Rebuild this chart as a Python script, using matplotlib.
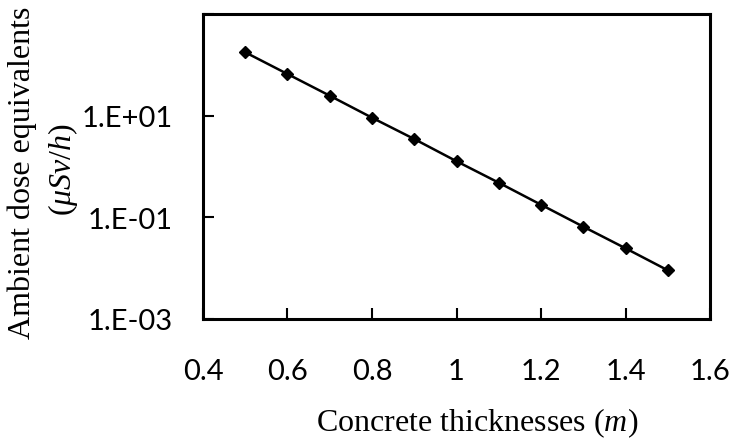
import matplotlib.pyplot as plt
from matplotlib.ticker import FixedLocator, NullLocator

plt.rcParams['mathtext.fontset'] = 'custom'
plt.rcParams['mathtext.rm'] = 'Liberation Serif'
plt.rcParams['mathtext.it'] = 'Liberation Serif:italic'

# concrete thickness (m) vs ambient dose equivalent (uSv/h)
thickness = [0.5, 0.6, 0.7, 0.8, 0.9, 1.0, 1.1, 1.2, 1.3, 1.4, 1.5]
dose = [176.5, 66.0, 24.7, 9.12, 3.47, 1.27, 0.48, 0.177, 0.0655, 0.0246, 0.00908]

xticks = [0.4, 0.6, 0.8, 1.0, 1.2, 1.4, 1.6]
xtick_labels = ['0.4', '0.6', '0.8', '1', '1.2', '1.4', '1.6']
yticks = [1e-3, 1e-1, 1e1, 1e3]
ytick_labels = ['1.E-03', '1.E-01', '1.E+01', '']

fig = plt.figure(figsize=(7.32, 4.39), dpi=100)
ax = fig.add_axes([0.2773, 0.2711, 0.6927, 0.6947])

ax.plot(thickness, dose, color='black', lw=1.8, marker='D', ms=6.5,
        markerfacecolor='black', markeredgecolor='black')

ax.set_yscale('log')
ax.set_xlim(0.4, 1.6)
ax.set_ylim(1e-3, 1e3)
ax.xaxis.set_major_locator(FixedLocator(xticks))
ax.set_xticklabels(xtick_labels)
ax.yaxis.set_major_locator(FixedLocator(yticks))
ax.set_yticklabels(ytick_labels)
ax.yaxis.set_minor_locator(NullLocator())

for s in ax.spines.values():
    s.set_linewidth(2.2)

ax.tick_params(axis='both', direction='in', length=8, width=1.5,
               labelsize=21)
ax.tick_params(axis='x', pad=28)
ax.tick_params(axis='y', pad=22)
for lab in ax.get_xticklabels() + ax.get_yticklabels():
    lab.set_family(['Lato', 'DejaVu Sans'])

fig.text(0.652, 0.036, r'Concrete thicknesses ($\it{m}$)',
         family='Liberation Serif', fontsize=23, ha='center', va='center')
fig.text(0.031, 0.606, 'Ambient dose equivalents',
         family='Liberation Serif', fontsize=23, rotation=90,
         ha='center', va='center')
fig.text(0.086, 0.613, r'($\mu Sv/h$)',
         family='Liberation Serif', fontsize=23, rotation=90,
         ha='center', va='center')

fig.savefig('out.png', dpi=100)
